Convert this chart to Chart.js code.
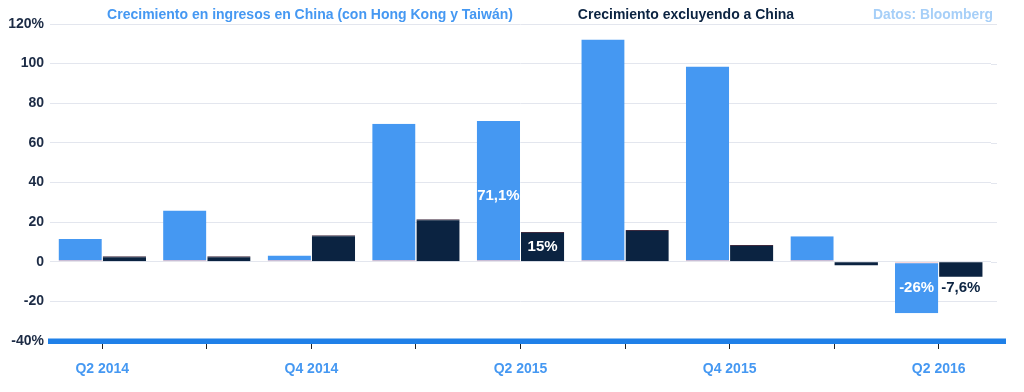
<!DOCTYPE html>
<html>
<head>
<meta charset="utf-8">
<script src="https://cdn.jsdelivr.net/npm/chart.js@4"></script>
<style>
  html, body { margin: 0; padding: 0; background: #fff; }
  #wrap { width: 1024px; height: 392px; }
</style>
</head>
<body>
<div id="wrap"><canvas id="chart" width="1024" height="392"></canvas></div>
<script>
// --- data ---
const quarters = ['Q2 2014', 'Q3 2014', 'Q4 2014', 'Q1 2015', 'Q2 2015', 'Q3 2015', 'Q4 2015', 'Q1 2016', 'Q2 2016'];
const chinaGrowth = [11.5, 25.9, 3.1, 69.6, 71.1, 112.2, 98.5, 12.9, -26];
const exChinaGrowth = [2.8, 2.8, 13.4, 21.5, 15, 16, 8.4, -1.8, -7.6];
const yTicks = [120, 100, 80, 60, 40, 20, 0, -20, -40];
const seriesNames = ['Crecimiento en ingresos en China (con Hong Kong y Taiwán)', 'Crecimiento excluyendo a China'];
const sourceNote = 'Datos: Bloomberg';
// labelled bars: [dataset, index, text, inside?]
const barLabels = [
  [0, 4, '71,1%', true],
  [1, 4, '15%', true],
  [0, 8, '-26%', true],
  [1, 8, '-7,6%', false],
];

const LIGHT = '#4598f2';
const NAVY = '#0b2341';
const FONT = '"Liberation Sans", Arial, sans-serif';

/** header texts + bar labels + base line + extension of grid past the last category */
const decorPlugin = {
  id: 'decor',
  beforeDatasetsDraw(chart) {
    const { ctx, chartArea, scales } = chart;
    ctx.save();
    ctx.strokeStyle = '#e3e6ee';
    ctx.lineWidth = 1;
    yTicks.forEach(v => {
      if (v === -40) return;
      const y = Math.round(scales.y.getPixelForValue(v)) + 0.5;
      ctx.beginPath();
      ctx.moveTo(chartArea.right, y);
      ctx.lineTo(chartArea.right + 6, y);
      ctx.stroke();
    });
    ctx.restore();
  },
  afterDraw(chart) {
    const { ctx, chartArea, scales } = chart;
    ctx.save();
    // thick blue base line at -40%
    const yBase = scales.y.getPixelForValue(-40);
    ctx.fillStyle = '#1f80e8';
    ctx.fillRect(chartArea.left - 2, yBase - 2.5, chartArea.right + 15 - chartArea.left + 2, 5.5);

    ctx.font = 'bold 14px ' + FONT;
    ctx.textBaseline = 'middle';
    ctx.textAlign = 'center';
    ctx.fillStyle = LIGHT;
    ctx.fillText(seriesNames[0], 310, 15, 406);
    ctx.fillStyle = NAVY;
    ctx.fillText(seriesNames[1], 686, 15, 218);
    ctx.fillStyle = '#a6cff8';
    ctx.fillText(sourceNote, 933, 15, 120);

    ctx.font = 'bold 15px ' + FONT;
    barLabels.forEach(([ds, i, txt, inside]) => {
      const bar = chart.getDatasetMeta(ds).data[i];
      const v = chart.data.datasets[ds].data[i];
      let y;
      if (inside) {
        if (ds === 1 || v < 0) y = (bar.base + bar.y) / 2;
        else y = bar.y + 75;
        ctx.fillStyle = '#fff';
      } else {
        y = bar.y + 11;
        ctx.fillStyle = NAVY;
      }
      ctx.fillText(txt, bar.x, y);
    });
    ctx.restore();
  }
};

new Chart(document.getElementById('chart'), {
  type: 'bar',
  data: {
    labels: quarters,
    datasets: [
      {
        label: seriesNames[0],
        data: chinaGrowth,
        backgroundColor: LIGHT,
        borderColor: '#f3b9bd',
        borderWidth: ctx => (ctx.raw >= 0 ? { bottom: 1 } : { top: 1 }),
        borderSkipped: false,
        categoryPercentage: 0.845,
        barPercentage: 0.98,
      },
      {
        label: seriesNames[1],
        data: exChinaGrowth,
        backgroundColor: NAVY,
        borderColor: '#3e2a3e',
        borderWidth: ctx => (ctx.raw >= 0 ? { top: 1 } : 0),
        borderSkipped: false,
        categoryPercentage: 0.845,
        barPercentage: 0.98,
      },
    ],
  },
  options: {
    responsive: false,
    animation: false,
    layout: { padding: { top: 24, right: 33, bottom: 0, left: 0 } },
    plugins: { legend: { display: false }, tooltip: { enabled: false } },
    scales: {
      x: {
        grid: { drawOnChartArea: false, drawTicks: true, tickLength: 8, color: '#222', offset: false },
        border: { display: false },
        ticks: {
          autoSkip: false,
          maxRotation: 0,
          padding: 12,
          color: LIGHT,
          font: { family: FONT, size: 14, weight: 'bold' },
          callback: (v, i) => (i % 2 === 0 ? quarters[i] : ''),
        },
        afterFit: s => { s.height = 51; },
      },
      y: {
        min: -40,
        max: 120,
        afterBuildTicks: s => { s.ticks = yTicks.map(v => ({ value: v })); },
        grid: { color: '#e3e6ee', drawTicks: false },
        border: { display: false },
        ticks: {
          padding: 6,
          color: '#1c2b45',
          font: { family: FONT, size: 14, weight: 'bold' },
          callback: v => (v === 120 || v === -40 ? v + '%' : v),
        },
        afterFit: s => { s.width = 50; },
      },
    },
  },
  plugins: [decorPlugin],
});
</script>
</body>
</html>
